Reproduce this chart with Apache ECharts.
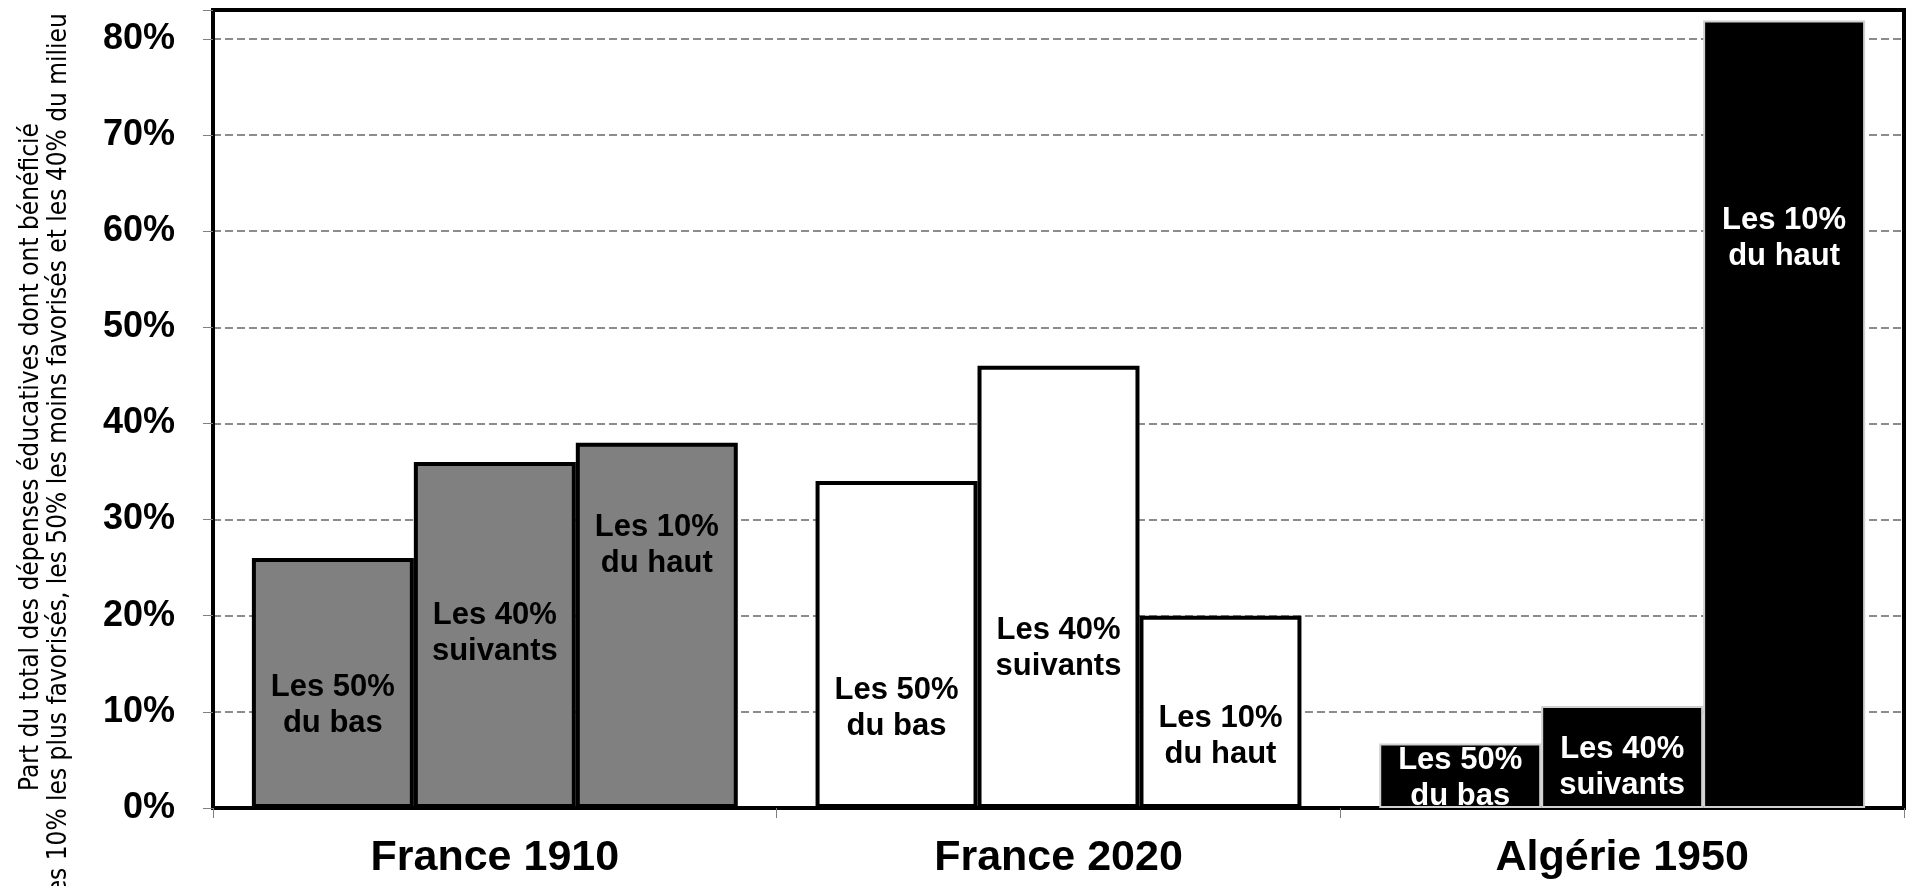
<!DOCTYPE html>
<html>
<head>
<meta charset="utf-8">
<script src="https://cdn.jsdelivr.net/npm/echarts@6/dist/echarts.min.js"></script>
<style>
    html, body { margin: 0; padding: 0; background: #fff; }
    #chart { width: 1910px; height: 886px; }
</style>
</head>
<body>
<div id="chart"></div>
<script>
    // données (en %)
    const categories = ['France 1910', 'France 2020', 'Algérie 1950'];
    const bas50 = [26, 34, 6.7];
    const suivants40 = [36, 46, 10.6];
    const haut10 = [38, 20, 81.9];
    const seriesNames = ['Les 50%\ndu bas', 'Les 40%\nsuivants', 'Les 10%\ndu haut'];
    const yTicks = [0, 10, 20, 30, 40, 50, 60, 70, 80];

    // hauteur (en %) où se trouve le milieu de chaque étiquette
    const lab50 = [10.7, 10.4, 3.1];
    const lab40 = [18.2, 16.6, 4.2];
    const lab10 = [27.3, 7.4, 59.2];

    const fills = ['#808080', '#ffffff', '#000000'];
    const borders = ['#000000', '#000000', '#d0d0d0'];
    const borderW = [4, 4, 2];
    const textColors = ['#000000', '#000000', '#ffffff'];

    const chart = echarts.init(document.getElementById('chart'), null, {renderer: 'canvas'});

    function buildData(values, labelAt, name) {
        return values.map(function (v, i) {
            const pct = (v - labelAt[i]) / v * 100;
            return {
                value: v,
                itemStyle: {
                    color: fills[i],
                    borderColor: borders[i],
                    borderWidth: borderW[i]
                },
                label: {
                    show: true,
                    formatter: name,
                    position: ['50%', pct + '%'],
                    align: 'center',
                    verticalAlign: 'middle',
                    color: textColors[i],
                    fontFamily: 'Liberation Sans, Arial, sans-serif',
                    fontWeight: 'bold',
                    fontSize: 31,
                    lineHeight: 36
                }
            };
        });
    }

    const option = {
        animation: false,
        backgroundColor: '#ffffff',
        grid: {
            left: 213,
            right: 6,
            top: 10,
            bottom: 78,
            show: true,
            borderColor: '#000',
            borderWidth: 4,
            backgroundColor: 'transparent'
        },
        xAxis: {
            type: 'category',
            data: categories,
            axisLine: {lineStyle: {color: '#000', width: 3}},
            axisTick: {show: true, length: 10, lineStyle: {color: '#808080', width: 1}},
            axisLabel: {
                margin: 29,
                color: '#000',
                fontFamily: 'Liberation Sans, Arial, sans-serif',
                fontWeight: 'bold',
                fontSize: 43
            }
        },
        yAxis: {
            type: 'value',
            min: 0,
            max: 83,
            interval: 10,
            axisLine: {show: true, lineStyle: {color: '#000', width: 3}},
            axisTick: {show: true, length: 10, lineStyle: {color: '#808080', width: 1}},
            axisLabel: {
                margin: 38,
                color: '#000',
                fontFamily: 'Liberation Sans, Arial, sans-serif',
                fontWeight: 'bold',
                fontSize: 36,
                formatter: function (v) {
                    return yTicks.indexOf(v) >= 0 ? v + '%' : '';
                }
            },
            splitLine: {
                show: true,
                showMaxLine: false,
                lineStyle: {color: '#8c8c8c', width: 2, type: [8, 4]}
            }
        },
        graphic: [{
            type: 'text',
            x: 45,
            y: 457,
            rotation: Math.PI / 2,
            style: {
                text: 'Part du total des dépenses éducatives dont ont bénéficié\nles 10% les plus favorisés, les 50% les moins favorisés et les 40% du milieu',
                fill: '#000',
                font: '26px "Liberation Sans Narrow", "DejaVu Sans Condensed", sans-serif',
                lineHeight: 28,
                align: 'center',
                verticalAlign: 'middle'
            }
        }],
        series: [
            {name: 'bas50', type: 'bar', barGap: '0%', barCategoryGap: '13.8%', data: buildData(bas50, lab50, seriesNames[0])},
            {name: 'suivants40', type: 'bar', barGap: '0%', barCategoryGap: '13.8%', data: buildData(suivants40, lab40, seriesNames[1])},
            {name: 'haut10', type: 'bar', barGap: '0%', barCategoryGap: '13.8%', data: buildData(haut10, lab10, seriesNames[2])}
        ]
    };

    chart.setOption(option);
</script>
</body>
</html>
